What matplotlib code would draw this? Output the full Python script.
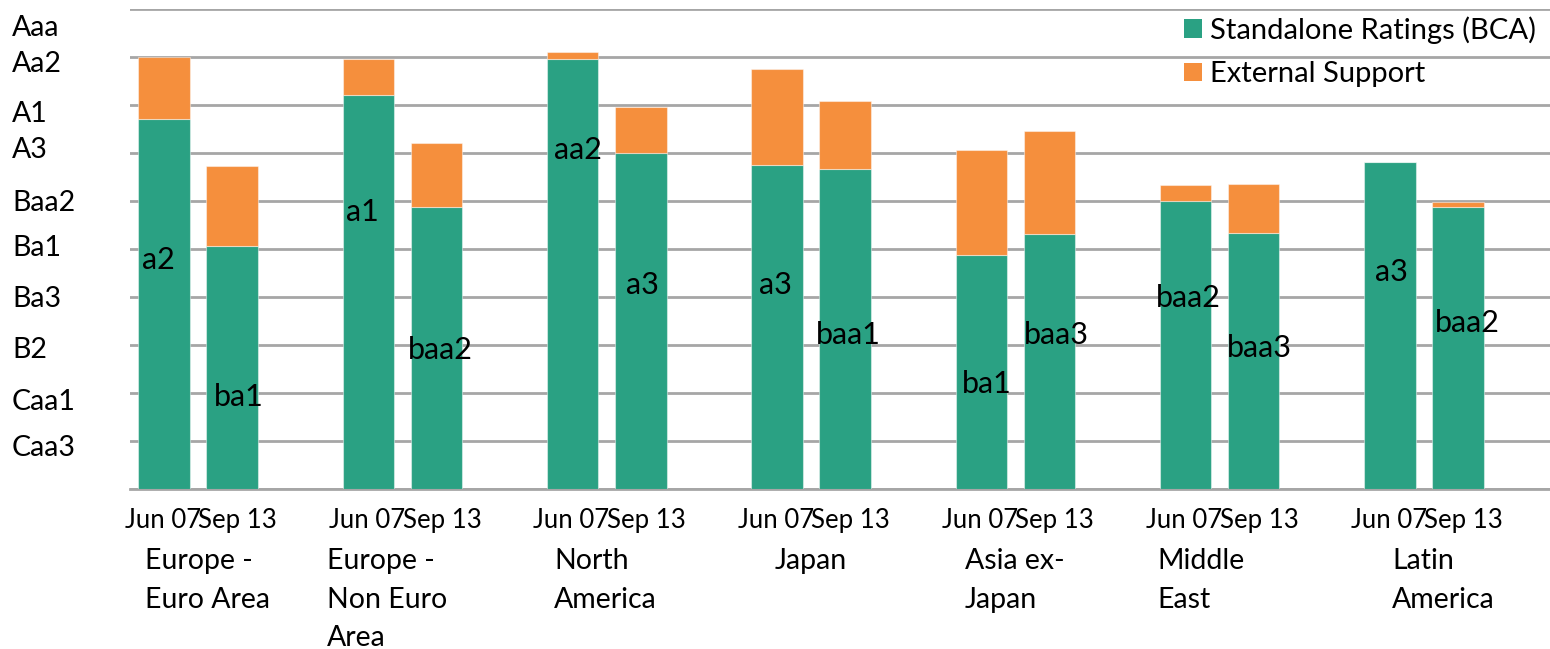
import matplotlib
matplotlib.use("Agg")
import matplotlib.pyplot as plt
from matplotlib.patches import Patch
from matplotlib.transforms import blended_transform_factory

plt.rcParams['font.family'] = ['Lato', 'DejaVu Sans']

# ---------------- data ----------------
regions = ["Europe -\nEuro Area", "Europe -\nNon Euro\nArea", "North\nAmerica",
           "Japan", "Asia ex-\nJapan", "Middle\nEast", "Latin\nAmerica"]
dates = ["Jun 07", "Sep 13"]

# rating scale: C = 0 ... Aaa = 20 (one unit per notch)
bca_jun07 = [15.4, 16.4, 17.9, 13.5, 9.75, 12.0, 13.6]
support_jun07 = [2.6, 1.5, 0.3, 4.0, 4.35, 0.65, 0.0]
bca_sep13 = [10.1, 11.75, 14.0, 13.3, 10.6, 10.65, 11.75]
support_sep13 = [3.35, 2.65, 1.9, 2.85, 4.3, 2.05, 0.2]

bca_labels_jun07 = ["a2", "a1", "aa2", "a3", "ba1", "baa2", "a3"]
bca_labels_sep13 = ["ba1", "baa2", "a3", "baa1", "baa3", "baa3", "baa2"]

rating_labels = ["Caa3", "Caa1", "B2", "Ba3", "Ba1", "Baa2", "A3", "A1", "Aa2", "Aaa"]
grid_values = [0, 2, 4, 6, 8, 10, 12, 14, 16, 18, 20]

# ---------------- layout ----------------
rating_label_pos = [1.78, 3.7, 5.9, 8.0, 10.15, 12.0, 14.2, 15.7, 17.8, 19.3]
label_dx_jun07 = [-0.09, -0.09, 0.07, -0.03, 0.08, 0.04, 0.02]
label_y_jun07 = [9.53, 11.53, 14.11, 8.49, 4.36, 7.95, 9.03]
label_dx_sep13 = [0.10, 0.05, 0.02, 0.04, 0.10, 0.09, 0.13]
label_y_sep13 = [3.82, 5.78, 8.49, 6.4, 6.4, 5.86, 6.9]
region_label_x = [-0.28, 2.39, 5.73, 8.97, 11.76, 14.58, 18.03]

GREEN = "#2AA183"
ORANGE = "#F58F3D"
GRID = "#A6A6A6"
FS = 20.5
FS_TICK = 18.5
FS_BAR = 22
FS_LEG = 21

W, H = 1550, 649
fig = plt.figure(figsize=(W / 100, H / 100), dpi=100)
ax = fig.add_axes([130 / W, 160.3 / H, 1 - 130 / W, 480 / H])

n = len(regions)
x_jun = [3 * i for i in range(n)]
x_sep = [3 * i + 1 for i in range(n)]
bw = 0.756

edge = dict(edgecolor=(1, 1, 1, 0.45), linewidth=0.8, zorder=3)
ax.bar(x_jun, bca_jun07, bw, color=GREEN, **edge)
ax.bar(x_jun, support_jun07, bw, bottom=bca_jun07, color=ORANGE, **edge)
ax.bar(x_sep, bca_sep13, bw, color=GREEN, **edge)
ax.bar(x_sep, support_sep13, bw, bottom=bca_sep13, color=ORANGE, **edge)

for i in range(n):
    ax.text(x_jun[i] + label_dx_jun07[i], label_y_jun07[i], bca_labels_jun07[i],
            ha="center", va="center", fontsize=FS_BAR, color="black", zorder=5)
    ax.text(x_sep[i] + label_dx_sep13[i], label_y_sep13[i], bca_labels_sep13[i],
            ha="center", va="center", fontsize=FS_BAR, color="black", zorder=5)

ax.set_xlim(-0.5, 20.35)
ax.set_ylim(0, 20)

# gridlines
ax.yaxis.remove_overlapping_locs = False
ax.set_yticks(grid_values)
ax.set_yticklabels([])
ax.tick_params(axis="y", which="major", length=0)
ax.grid(axis="y", which="major", color=GRID, linewidth=2, zorder=0)
ax.set_axisbelow(True)

# rating labels
ax.set_yticks(rating_label_pos, rating_labels, minor=True)
ax.tick_params(axis="y", which="minor", length=0, pad=85, labelsize=FS)
for lab in ax.get_yticklabels(minor=True):
    lab.set_horizontalalignment("left")

# x ticks
xt = []
xl = []
for i in range(n):
    xt += [x_jun[i] - 0.02, x_sep[i] + 0.08]
    xl += dates
ax.set_xticks(xt, xl)
ax.tick_params(axis="x", length=0, pad=14, labelsize=FS_TICK)

for s in ["left", "right", "top"]:
    ax.spines[s].set_visible(False)
ax.spines["bottom"].set_color(GRID)
ax.spines["bottom"].set_linewidth(2)

trans = blended_transform_factory(ax.transData, fig.transFigure)
for i in range(n):
    ax.text(region_label_x[i], 1 - 548 / H, regions[i], transform=trans,
            ha="left", va="top", fontsize=FS, linespacing=1.6, multialignment="left")

handles = [Patch(facecolor=GREEN, label="Standalone Ratings (BCA)"),
           Patch(facecolor=ORANGE, label="External Support")]
fig.legend(handles=handles, loc="upper left", bbox_to_anchor=(1184 / W, 1 - 16 / H),
           frameon=False, fontsize=FS_LEG, handlelength=0.6, handleheight=0.6,
           handletextpad=0.3, labelspacing=0.6, borderaxespad=0, borderpad=0)

fig.savefig("out.png", dpi=100)
